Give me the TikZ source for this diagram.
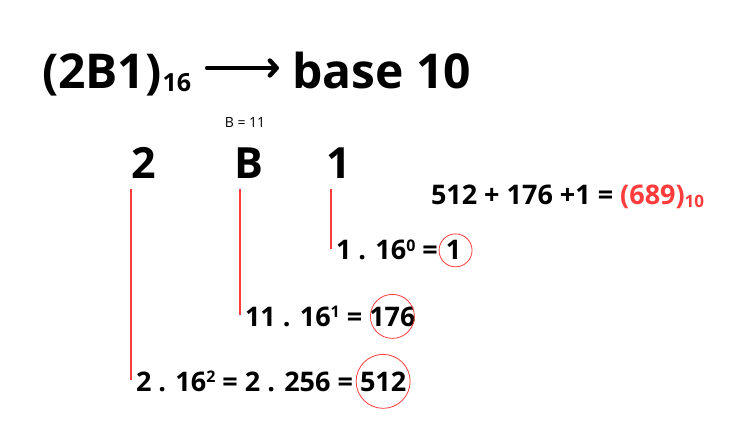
\documentclass[tikz,border=0pt]{standalone}
\usepackage{fontspec}
\setmainfont{Open Sans}
\usetikzlibrary{positioning,arrows.meta}
\definecolor{markred}{RGB}{255,59,59}
\tikzstyle{every node}=[inner sep=0pt, outer sep=0pt]
\tikzstyle{title}=[anchor=base west, font=\fontsize{48}{48}\selectfont\bfseries]
\tikzstyle{digit}=[anchor=base, font=\fontsize{43}{43}\selectfont\bfseries]
\tikzstyle{calc}=[anchor=base west, font=\fontsize{27}{27}\selectfont\bfseries]
\tikzstyle{note}=[anchor=base, font=\fontsize{14}{14}\selectfont]
\tikzstyle{digitline}=[draw=markred, line width=2pt]
\tikzstyle{ring}=[draw=markred, line width=0.8pt]
\newcommand{\pw}[1]{\raisebox{8.5pt}{\fontsize{16}{16}\selectfont #1}}
\newcommand{\low}[3]{\raisebox{-#1}{\fontsize{#2}{#2}\selectfont #3}}

\begin{document}
\begin{tikzpicture}[x=1pt, y=-1pt]
            \useasboundingbox (0,0) rectangle (750,422);

            \node[title] (src) at (42,89) {(2B1)\kern1pt\low{3pt}{25}{16}};
            \node[title] (dst) at (292,89) {base 10};
            \draw[line width=4.4pt, line cap=round,
                  -{Straight Barb[length=7pt, width=15pt, line cap=round, line join=round]}]
                ([shift={(16pt,21pt)}]src.base east) -- ([shift={(-13pt,21pt)}]dst.base west);

            \node[note] (bval) at (245,128) {B = 11};

            \node[digit] (d2) at (144,179) {2};
            \node[digit] (dB) at (249,179) {B};
            \node[digit] (d1) at (339,179) {1};

            \node[calc] (eq1) at (336,260) {1 . 16\pw{0} =};
            \node[calc, anchor=base west] (n1) at ([xshift=8pt]eq1.base east) {1};
            \node[calc] (eq2) at (245,326) {11 . 16\pw{1} =};
            \node[calc, anchor=base west] (n2) at ([xshift=7pt]eq2.base east) {176};
            \node[calc] (eq3) at (136,391) {2 . 16\pw{2} = 2 . 256 =};
            \node[calc, anchor=base west] (n3) at ([xshift=7pt]eq3.base east) {512};

            \node[calc] (sum) at (431,205) {512 + 176 +1 = \textcolor{markred}{(689)\low{3pt}{17}{10}}};

            \coordinate (b1) at ([xshift=-5pt]eq1.base west);
            \coordinate (b2) at ([xshift=-5pt]eq2.base west);
            \coordinate (b3) at ([xshift=-5pt]eq3.base west);
            \coordinate (t1) at (b1 |- d1.south);
            \coordinate (t2) at (b2 |- dB.south);
            \coordinate (t3) at (b3 |- d2.south);
            \draw[digitline] ([yshift=-10pt]t1) -- ([yshift=11pt]b1);
            \draw[digitline] ([yshift=-10pt]t2) -- ([yshift=11pt]b2);
            \draw[digitline] ([yshift=-10pt]t3) -- ([yshift=11pt]b3);

            \draw[ring] ([xshift=2pt]n1.center) circle[radius=16.5pt];
            \draw[ring] (n2.center) circle[radius=22pt];
            \draw[ring] (n3.center) circle[radius=27pt];
        \end{tikzpicture}
\end{document}
